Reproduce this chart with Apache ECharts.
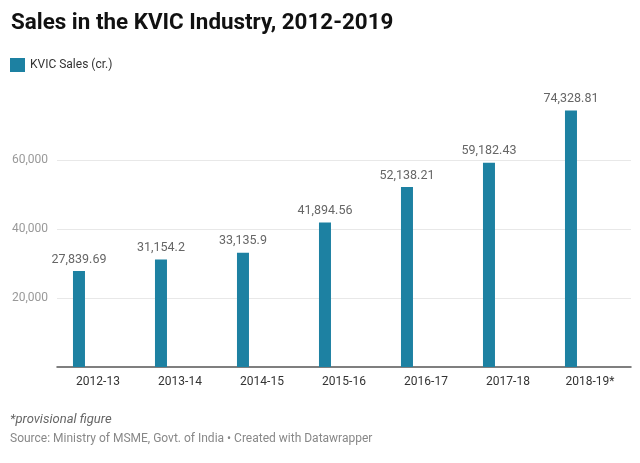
<!DOCTYPE html>
<html>
<head>
<meta charset="utf-8">
<script src="https://cdn.jsdelivr.net/npm/echarts@6/dist/echarts.min.js"></script>
<style>html,body{margin:0;padding:0;background:#fff}#c{width:640px;height:463px}</style>
</head>
<body>
<div id="c"></div>
<script>
const categories = ['2012-13','2013-14','2014-15','2015-16','2016-17','2017-18','2018-19*'];
const sales = [27839.69, 31154.2, 33135.9, 41894.56, 52138.21, 59182.43, 74328.81];
const seriesName = 'KVIC Sales (cr.)';

const chart = echarts.init(document.getElementById('c'));
const fmt = v => v.toLocaleString('en-US', {maximumFractionDigits: 2});
chart.setOption({
  backgroundColor: '#fff',
  textStyle: {fontFamily: 'Roboto'},
  title: {
    text: 'Sales in the KVIC Industry, 2012-2019',
    left: 6, top: 7,
    textStyle: {fontFamily: 'Roboto', fontWeight: 'bold', fontSize: 22.4, color: '#111'}
  },
  legend: {
    data: [seriesName],
    left: 5, top: 53,
    itemWidth: 15, itemHeight: 14, itemGap: 10,
    icon: 'rect',
    textStyle: {fontFamily: 'Roboto', fontSize: 12, color: '#333'}
  },
  grid: {left: 57, right: 9, top: 91, bottom: 96, containLabel: false},
  xAxis: {
    type: 'category',
    data: categories,
    axisLine: {lineStyle: {color: '#555', width: 1.5}},
    axisTick: {show: false},
    axisLabel: {fontFamily: 'Roboto', fontSize: 12, color: '#333', margin: 9}
  },
  yAxis: {
    type: 'value',
    min: 0, max: 80000, interval: 20000,
    axisLine: {show: false},
    axisTick: {show: false},
    axisLabel: {
      fontFamily: 'Roboto', fontSize: 12, color: '#999', margin: 9,
      formatter: v => (v === 0 || v === 80000) ? '' : fmt(v)
    },
    splitLine: {show: true, showMinLine: false, showMaxLine: false, lineStyle: {color: '#e8e8e8', width: 1}}
  },
  series: [
    {
      name: seriesName,
      type: 'bar',
      data: sales,
      barWidth: 12,
      barGap: '217%',
      itemStyle: {color: '#1d81a2'},
      label: {
        show: true, position: 'top', distance: 5,
        fontFamily: 'Roboto', fontSize: 12.5, color: '#666',
        formatter: p => fmt(p.value)
      }
    },
    {
      name: 'spacer',
      type: 'bar',
      data: sales.map(() => null),
      barWidth: 12,
      itemStyle: {color: 'transparent'}
    }
  ],
  graphic: [
    {type: 'text', left: 10, top: 413, style: {text: '*provisional figure', font: 'italic 13px Roboto', fill: '#666'}},
    {type: 'text', left: 10, top: 433, style: {text: 'Source: Ministry of MSME, Govt. of India • Created with Datawrapper', font: '12px Roboto', fill: '#888'}}
  ]
});
</script>
</body>
</html>
